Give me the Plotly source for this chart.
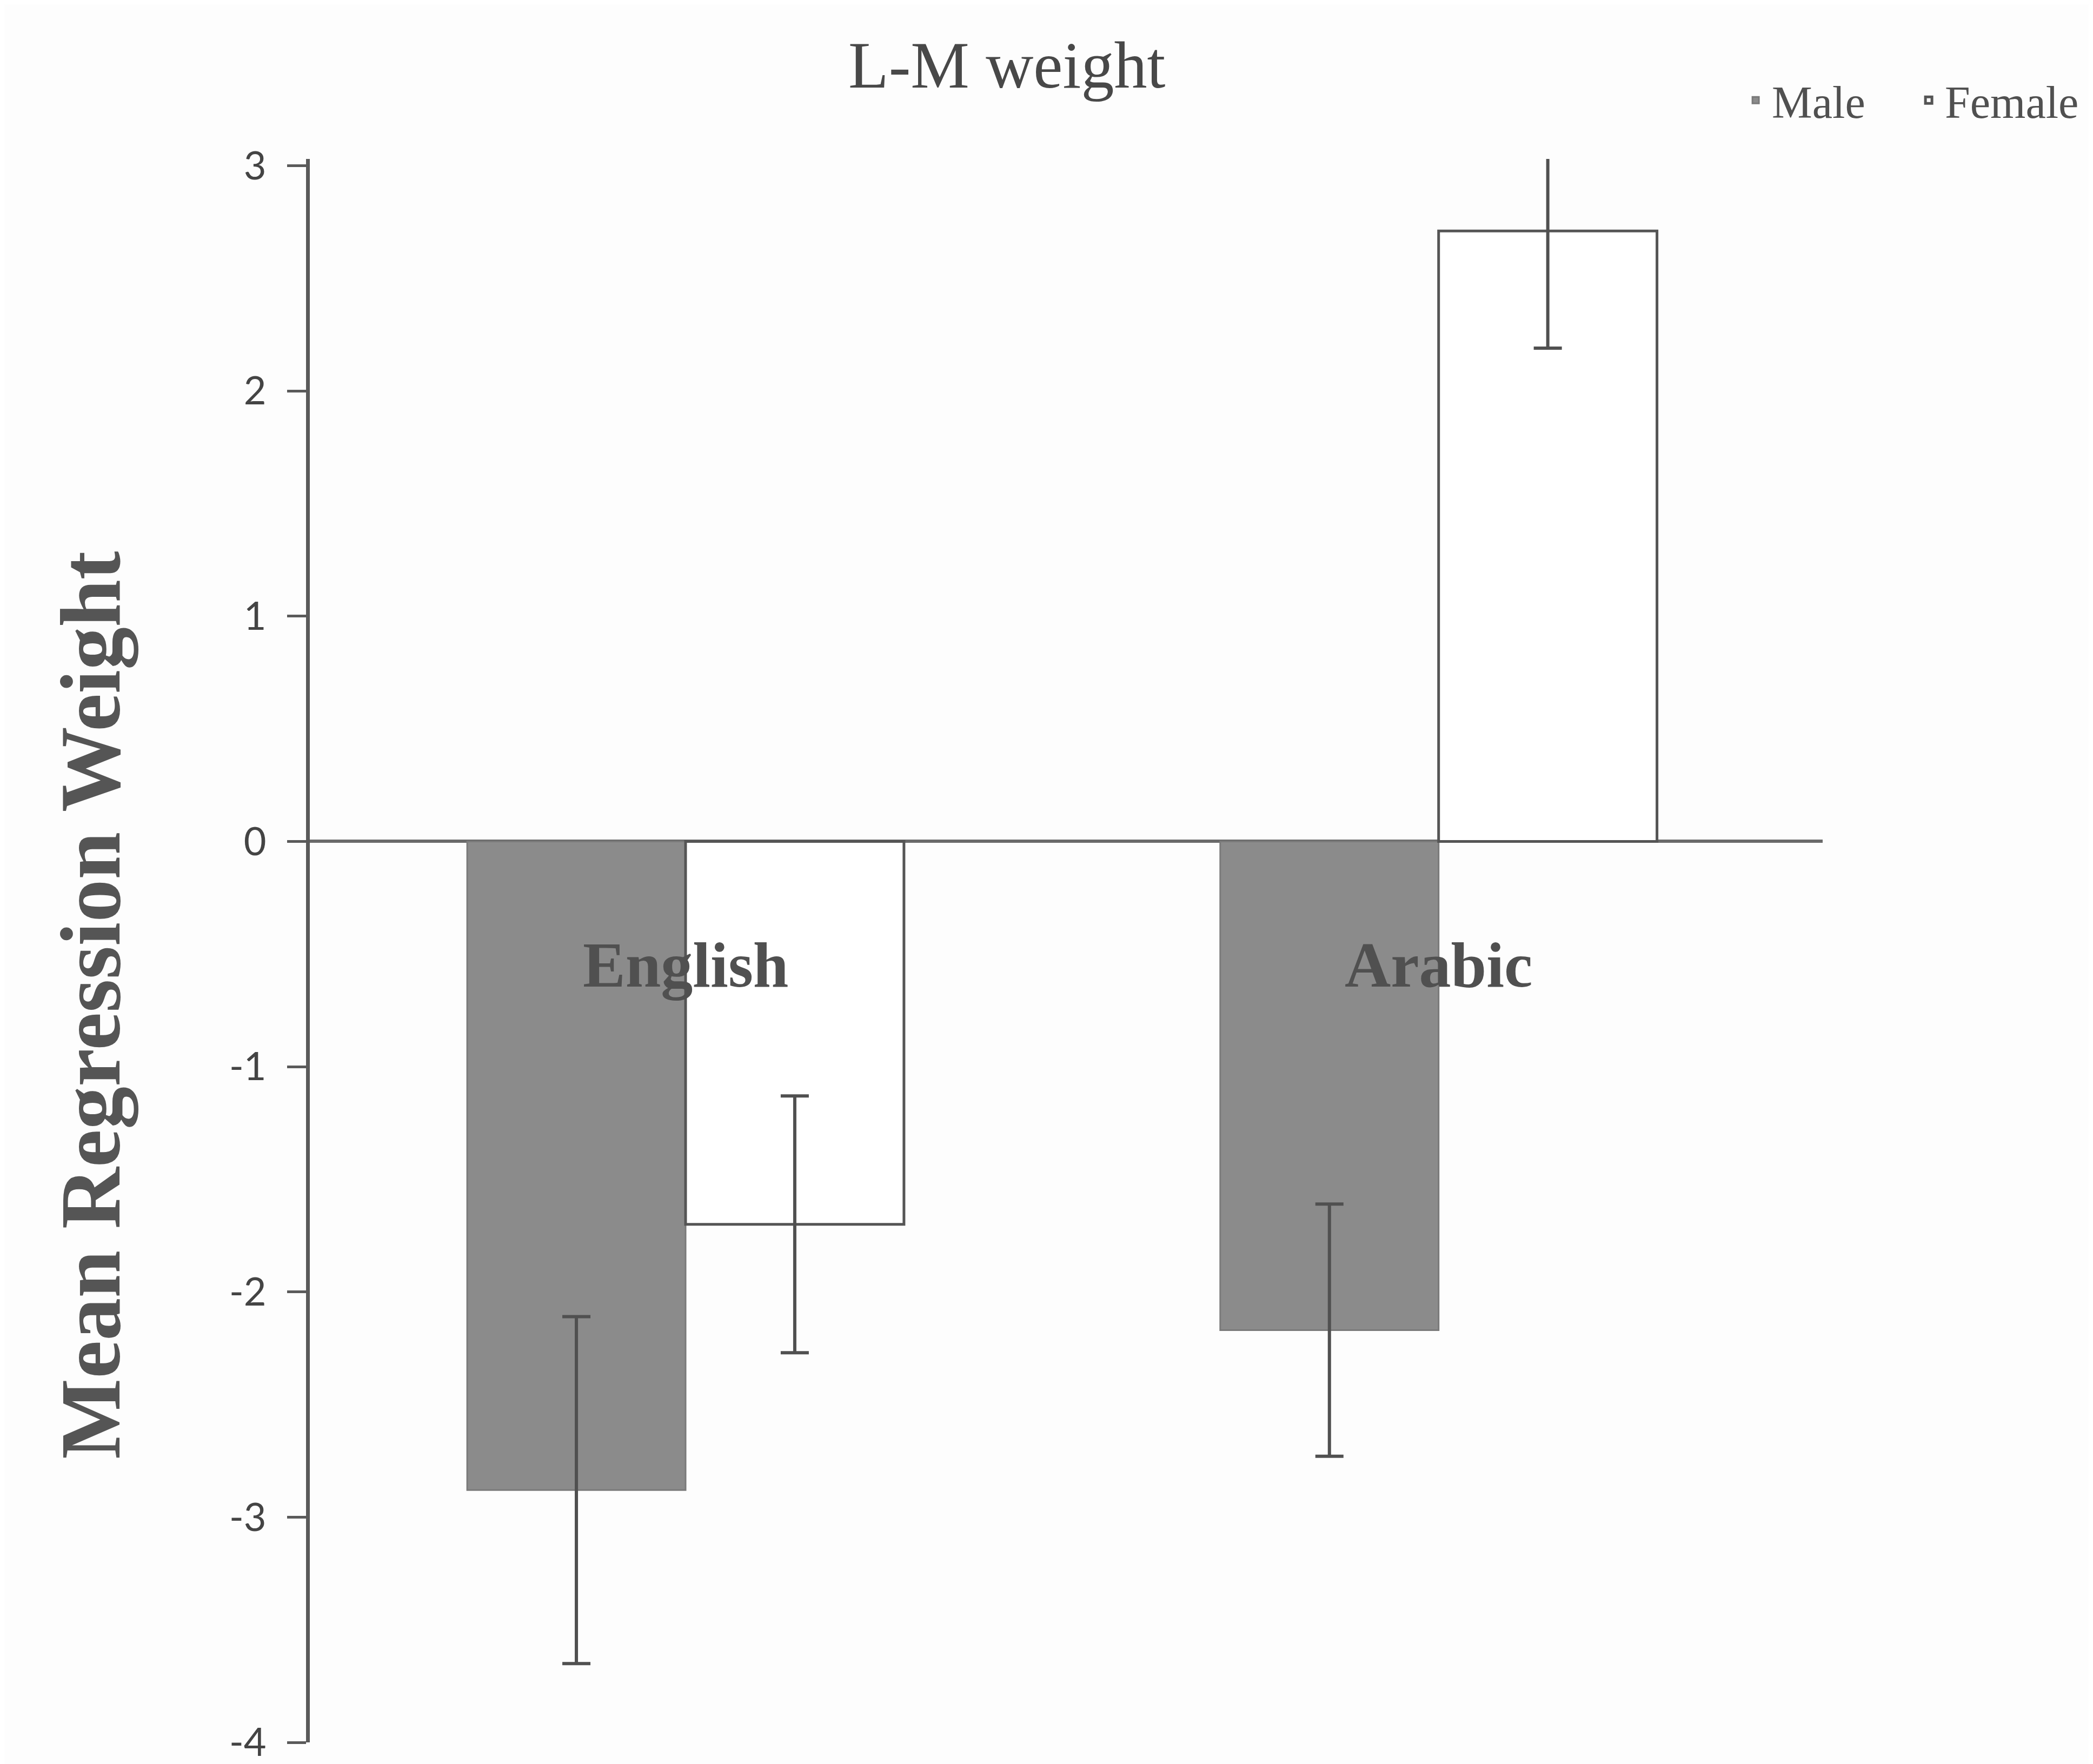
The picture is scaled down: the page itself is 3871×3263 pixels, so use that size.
import plotly.graph_objects as go

categories = ["English", "Arabic"]
male_values = [-2.88, -2.17]
male_errors = [0.77, 0.56]
female_values = [-1.70, 2.71]
female_errors = [0.57, 0.52]
y_ticks = [3, 2, 1, 0, -1, -2, -3, -4]

W, H = 3871, 3263
fig = go.Figure()

fig.add_trace(go.Bar(
    name="Male", x=categories, y=male_values,
    marker=dict(color="#8b8b8b", line=dict(color="#7a7a7a", width=3)),
    error_y=dict(type="data", array=male_errors, visible=True,
                 color="#505050", thickness=6, width=26),
))
fig.add_trace(go.Bar(
    name="Female", x=categories, y=female_values,
    marker=dict(color="#ffffff", line=dict(color="#555555", width=5)),
    error_y=dict(type="data", array=female_errors, visible=True,
                 color="#505050", thickness=6, width=26),
))

for c in categories:
    fig.add_annotation(x=c, y=-0.55, xref="x", yref="y", text="<b>%s</b>" % c,
                       showarrow=False,
                       font=dict(family="Liberation Serif, Times New Roman, serif",
                                 size=118, color="#505050"),
                       xanchor="center", yanchor="middle")

fig.add_annotation(x=-0.1447, y=0.4654, xref="paper", yref="paper",
                   text="<b>Mean Regression Weight</b>", textangle=-90,
                   showarrow=False,
                   font=dict(family="Liberation Serif, Times New Roman, serif",
                             size=158, color="#555555"),
                   xanchor="center", yanchor="middle")

fig.update_layout(
    width=W, height=H,
    paper_bgcolor="#fdfdfd", plot_bgcolor="#fdfdfd",
    margin=dict(l=565, r=508, t=286, b=48, autoexpand=False),
    barmode="group", bargap=0.42, bargroupgap=0.0,
    title=dict(text="L-M weight", x=0.479, xref="container", xanchor="center",
               y=0.966, yref="container", yanchor="middle",
               font=dict(family="Liberation Serif, Times New Roman, serif",
                         size=122, color="#484848")),
    legend=dict(orientation="h", x=0.945, y=1.037, xanchor="left", yanchor="middle",
                xref="paper", yref="paper",
                font=dict(family="Liberation Serif, Times New Roman, serif",
                          size=84, color="#505050"),
                itemwidth=50, bgcolor="rgba(0,0,0,0)", tracegroupgap=0,
                entrywidth=255, entrywidthmode="pixels"),
    showlegend=True,
    xaxis=dict(range=[-0.499, 1.510], showticklabels=False, showline=False,
               ticks="", showgrid=False, zeroline=False),
    yaxis=dict(range=[-4, 3.03], tickvals=y_ticks, ticktext=[str(v) for v in y_ticks],
               showgrid=False, showline=True, linecolor="#5a5a5a", linewidth=7,
               ticks="outside", ticklen=35, tickwidth=5, tickcolor="#5a5a5a",
               ticklabelstandoff=24,
               tickfont=dict(family="Lato, Open Sans, sans-serif", size=72, color="#444444"),
               zeroline=True, zerolinecolor="#6a6a6a", zerolinewidth=6),
)

fig.write_html("out.html")
